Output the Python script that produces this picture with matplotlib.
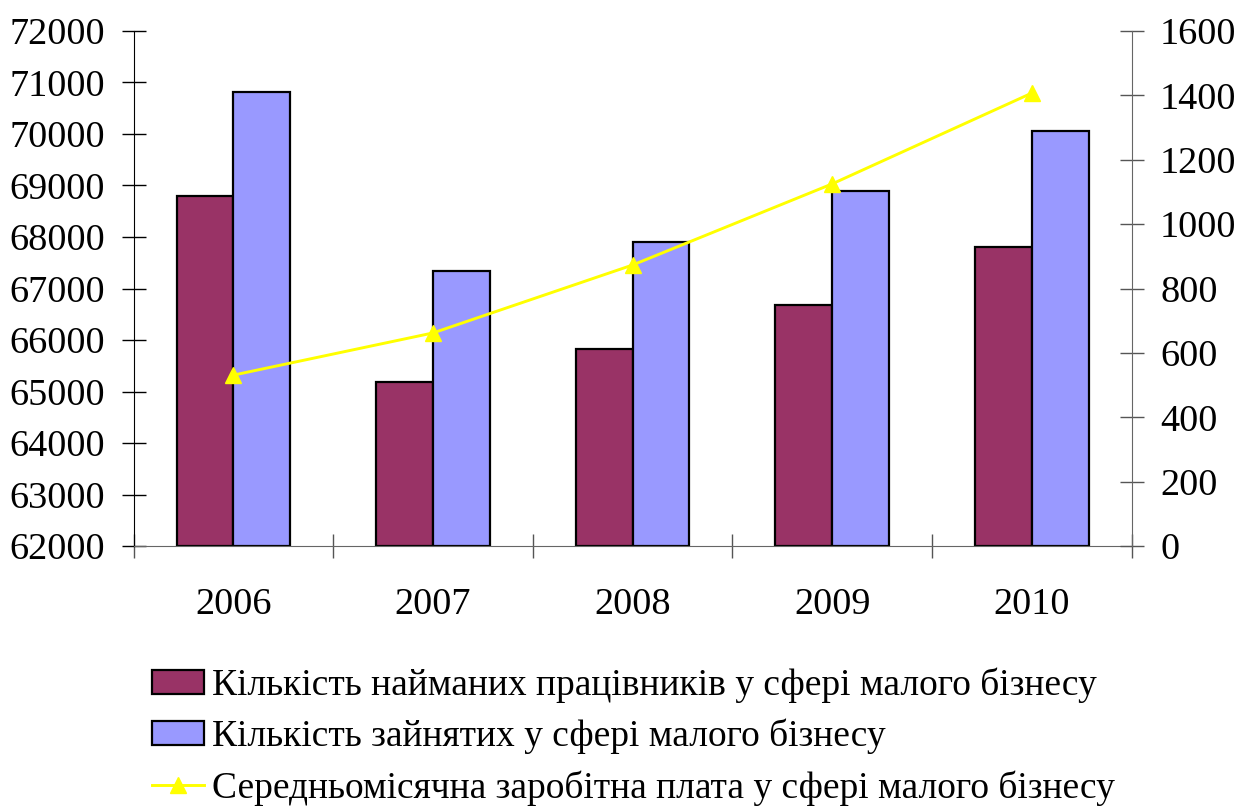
import matplotlib
matplotlib.use("Agg")
import matplotlib.pyplot as plt
import numpy as np

# Дані
roky = ['2006', '2007', '2008', '2009', '2010']
naimani = [68804, 65180, 65825, 66680, 67808]
zainiati = [70810, 67340, 67910, 68885, 70055]
zarplata = [531, 662, 873, 1125, 1407]

labels = ['Кількість найманих працівників у сфері малого бізнесу',
          'Кількість зайнятих у сфері малого бізнесу',
          'Середньомісячна заробітна плата у сфері малого бізнесу']

plt.rcParams['font.family'] = ['Liberation Serif', 'DejaVu Serif']

fig = plt.figure(figsize=(12.38, 8.07), dpi=100)
ax = fig.add_axes([0.108, 0.3234, 0.806, 0.6382])
ax2 = ax.twinx()

x = np.arange(len(roky))
w = 0.285
b1 = ax.bar(x - w/2, np.array(naimani) - 62000, w, bottom=62000, color='#993366',
            edgecolor='black', linewidth=1.6, label=labels[0], zorder=2)
b2 = ax.bar(x + w/2, np.array(zainiati) - 62000, w, bottom=62000, color='#9999FF',
            edgecolor='black', linewidth=1.6, label=labels[1], zorder=2)
ln, = ax2.plot(x, zarplata, color='#FFFF00', linewidth=2.1, marker='^', markersize=11,
               label=labels[2])

ax.set_xlim(-0.5, 4.5)
ax.set_ylim(62000, 72000)
ax2.set_ylim(0, 1600)
ax.set_yticks(np.arange(62000, 72001, 1000))
ax2.set_yticks(np.arange(0, 1601, 200))

ax.set_xticks(x)
ax.set_xticklabels(roky)
ax.set_xticks(np.arange(-0.5, 4.6, 1), minor=True)
ax.tick_params(axis='x', which='major', length=0, pad=30, labelsize=27.5)
ax.tick_params(axis='x', which='minor', direction='inout', length=17, width=1, color='#555555')
ax.tick_params(axis='y', direction='inout', length=17, width=1, pad=12, labelsize=27.5)
ax2.tick_params(axis='y', direction='inout', length=17, width=1, pad=12, labelsize=27.5,
                color='#555555')

for a in (ax, ax2):
    a.spines['top'].set_visible(False)
ax.spines['left'].set_color('black')
ax2.spines['left'].set_visible(False)
ax.spines['right'].set_visible(False)
ax2.spines['right'].set_color('#666666')
ax2.spines['bottom'].set_visible(False)
ax.spines['bottom'].set_color('#666666')
ax.spines['bottom'].set_zorder(3)

fig.legend(handles=[b1, b2, ln], loc='upper left', bbox_to_anchor=(0.108, 0.196),
           frameon=False, borderpad=0, handlelength=1.38, handleheight=0.62,
           handletextpad=0.2, labelspacing=0.42, prop={'size': 27})

fig.savefig('out.png', dpi=100)
